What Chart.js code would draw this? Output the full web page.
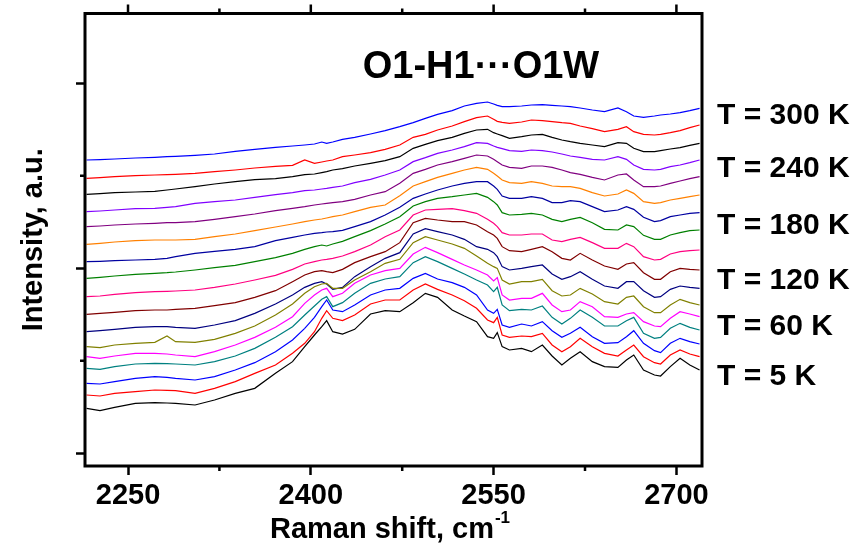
<!DOCTYPE html>
<html>
<head>
<meta charset="utf-8">
<script src="https://cdn.jsdelivr.net/npm/chart.js@4.4.1/dist/chart.umd.min.js"></script>
<style>
	html, body { margin: 0; padding: 0; background: #fff; }
	#wrap { width: 852px; height: 547px; position: relative; }
</style>
</head>
<body>
<div id="wrap"><canvas id="chart-raman"></canvas></div>
<script>
// Raman shift (cm-1) sample positions
const SHIFT = [2216, 2227, 2239, 2256, 2272, 2282, 2289, 2305, 2321, 2338, 2354, 2371, 2385, 2395, 2403, 2409, 2413, 2418, 2426, 2436, 2449, 2461, 2473,
	2484, 2494, 2504, 2516, 2526, 2536, 2545, 2550, 2553, 2557, 2563, 2573, 2581, 2590, 2598, 2606, 2613, 2621, 2631, 2641, 2652, 2659, 2665, 2673, 2682, 2687, 2695, 2703, 2711, 2719];

// stacked intensities (a.u.), bottom curve first
const I_5K = [173, 166, 176, 188, 190, 189, 188, 183, 198, 218, 233, 278, 313, 358, 393, 418, 436, 403, 396, 410, 456, 466, 463,
	490, 518, 506, 468, 450, 433, 388, 383, 400, 358, 348, 353, 343, 363, 330, 303, 323, 343, 313, 298, 296, 318, 333, 288, 273, 270, 298, 323, 303, 288];
const I_10K = [213, 210, 218, 223, 228, 227, 226, 218, 233, 253, 278, 303, 338, 368, 403, 443, 466, 443, 436, 453, 486, 498, 498,
	528, 546, 530, 513, 496, 473, 438, 430, 446, 393, 386, 390, 388, 398, 363, 343, 358, 383, 358, 338, 330, 348, 363, 328, 310, 306, 333, 348, 336, 328];
const I_20K = [248, 246, 253, 263, 268, 266, 263, 258, 268, 288, 310, 343, 378, 413, 446, 478, 498, 468, 463, 483, 513, 528, 533,
	563, 578, 561, 550, 536, 513, 468, 458, 470, 423, 416, 426, 420, 433, 406, 386, 398, 416, 388, 368, 370, 388, 406, 368, 346, 340, 368, 383, 373, 366];
const I_40K = [293, 290, 298, 306, 308, 307, 306, 303, 313, 330, 353, 386, 418, 453, 480, 500, 508, 478, 490, 518, 548, 561, 568,
	610, 628, 613, 593, 576, 558, 543, 523, 536, 483, 466, 470, 468, 480, 446, 426, 443, 468, 446, 420, 420, 436, 446, 398, 383, 386, 413, 428, 416, 408];
const I_60K = [328, 323, 330, 338, 338, 336, 333, 328, 343, 363, 386, 416, 448, 488, 513, 528, 533, 508, 518, 548, 573, 586, 593,
	636, 656, 640, 620, 603, 588, 573, 555, 565, 513, 498, 503, 503, 518, 483, 463, 468, 493, 478, 448, 446, 456, 460, 433, 420, 418, 443, 463, 456, 448];
const I_80K = [358, 355, 363, 368, 371, 390, 373, 371, 380, 398, 420, 453, 486, 518, 538, 546, 548, 533, 533, 558, 583, 608, 620,
	670, 688, 678, 666, 653, 630, 608, 598, 593, 558, 546, 553, 553, 560, 526, 510, 513, 533, 516, 493, 486, 506, 510, 478, 460, 460, 483, 500, 490, 483];
const I_100K = [403, 406, 410, 416, 418, 418, 416, 413, 423, 436, 458, 486, 513, 536, 548, 553, 546, 530, 536, 568, 598, 623, 640,
	696, 712, 703, 693, 680, 658, 650, 640, 628, 598, 588, 593, 598, 603, 576, 560, 568, 583, 560, 540, 533, 553, 553, 526, 506, 508, 530, 540, 536, 533];
const I_120K = [455, 458, 461, 466, 468, 468, 470, 473, 481, 490, 506, 526, 553, 573, 583, 586, 583, 580, 590, 610, 628, 643, 670,
	730, 743, 738, 733, 733, 723, 703, 693, 683, 658, 646, 643, 650, 658, 643, 623, 618, 638, 618, 600, 590, 606, 610, 580, 560, 560, 583, 593, 590, 588];
const I_140K = [508, 510, 515, 520, 523, 524, 525, 528, 536, 546, 558, 572, 590, 606, 613, 618, 620, 623, 630, 643, 663, 688, 708,
	753, 768, 770, 772, 766, 758, 740, 728, 718, 700, 693, 693, 696, 696, 678, 673, 680, 686, 670, 653, 653, 668, 658, 628, 618, 620, 636, 643, 646, 648];
const I_160K = [563, 566, 570, 575, 578, 580, 582, 588, 595, 602, 613, 625, 638, 650, 658, 663, 660, 666, 674, 688, 706, 726, 748,
	780, 793, 803, 808, 813, 818, 806, 793, 783, 760, 753, 755, 758, 753, 740, 733, 740, 746, 730, 710, 708, 723, 718, 692, 680, 680, 693, 700, 706, 708];
const I_180K = [613, 614, 616, 618, 620, 623, 628, 638, 644, 650, 658, 676, 686, 693, 698, 700, 702, 703, 707, 718, 733, 753, 776,
	803, 816, 828, 840, 848, 853, 853, 840, 830, 810, 803, 803, 808, 803, 790, 790, 796, 793, 778, 763, 768, 778, 770, 746, 733, 736, 748, 753, 758, 760];
const I_200K = [665, 668, 672, 676, 678, 678, 678, 680, 688, 696, 706, 717, 726, 733, 738, 741, 744, 748, 753, 763, 776, 783, 811,
	840, 853, 866, 878, 888, 896, 890, 878, 870, 858, 850, 848, 853, 848, 840, 838, 838, 833, 820, 810, 816, 828, 818, 793, 788, 790, 798, 803, 808, 813];
const I_220K = [718, 720, 723, 726, 728, 730, 730, 733, 740, 748, 756, 766, 773, 778, 783, 786, 788, 790, 793, 800, 813, 823, 848,
	878, 890, 903, 913, 923, 933, 930, 920, 913, 903, 896, 893, 900, 900, 896, 888, 880, 875, 866, 858, 873, 876, 858, 838, 838, 840, 848, 855, 862, 868];
const I_240K = [763, 765, 768, 772, 773, 776, 778, 788, 793, 798, 806, 814, 820, 826, 828, 831, 833, 836, 840, 850, 860, 873, 888,
	913, 925, 938, 948, 958, 970, 968, 960, 956, 952, 946, 944, 948, 946, 942, 936, 930, 926, 920, 918, 928, 920, 903, 890, 888, 890, 898, 903, 910, 918];
const I_260K = [815, 817, 820, 822, 824, 828, 831, 838, 846, 853, 859, 862, 868, 874, 876, 880, 883, 888, 892, 900, 908, 916, 928,
	953, 965, 976, 986, 998, 1008, 1010, 1000, 996, 991, 983, 988, 993, 995, 986, 978, 973, 968, 963, 958, 970, 968, 953, 943, 943, 946, 951, 955, 962, 968];
const I_280K = [863, 865, 868, 871, 873, 874, 875, 878, 883, 888, 894, 899, 902, 918, 908, 912, 915, 918, 928, 933, 940, 950, 963,
	986, 995, 1008, 1020, 1033, 1045, 1050, 1040, 1034, 1031, 1028, 1032, 1038, 1036, 1033, 1030, 1028, 1020, 1012, 1003, 1010, 1018, 1003, 995, 993, 995, 1000, 1006, 1015, 1023];
const I_300K = [918, 919, 921, 924, 926, 928, 929, 932, 936, 944, 950, 956, 960, 963, 966, 972, 968, 972, 980, 986, 996, 1006, 1018,
	1030, 1043, 1055, 1066, 1080, 1088, 1092, 1086, 1082, 1078, 1078, 1080, 1083, 1084, 1082, 1080, 1078, 1074, 1068, 1063, 1074, 1063, 1050, 1046, 1050, 1053, 1056, 1060, 1066, 1073];

const TEMPS = [5, 10, 20, 40, 60, 80, 100, 120, 140, 160, 180, 200, 220, 240, 260, 280, 300];
const SPECTRA = [I_5K, I_10K, I_20K, I_40K, I_60K, I_80K, I_100K, I_120K, I_140K, I_160K, I_180K, I_200K, I_220K, I_240K, I_260K, I_280K, I_300K];
const COLORS = ["#000000", "#ff0000", "#0000ff", "#008080", "#ff00ff", "#808000", "#000080", "#800000", "#ff0080",
	"#008000", "#0000a0", "#ff8000", "#800080", "#8000ff", "#000000", "#ff0000", "#0000ff"];

const X_TICKS = [2250, 2400, 2550, 2700];
const X_MINOR = [2325, 2475, 2625];
const Y_TICKS = [38, 593, 1148];
const Y_MINOR = [315.5, 870.5];
const TEMP_LABELS = ["T = 300 K", "T = 240 K", "T = 180 K", "T = 120 K", "T = 60 K", "T = 5 K"];

const FONT = "'Liberation Sans', Arial, sans-serif";

// frame, minor ticks and free text
const decorations = {
	id: "decorations",
	afterDraw(chart) {
		const { ctx, chartArea: a, scales: { x, y } } = chart;
		ctx.save();
		ctx.strokeStyle = "#000";
		ctx.lineWidth = 3;
		ctx.strokeRect(a.left, a.top, a.right - a.left, a.bottom - a.top);

		ctx.lineWidth = 2.5;
		ctx.beginPath();
		X_TICKS.forEach((v) => {
			const px = x.getPixelForValue(v);
			ctx.moveTo(px, a.top);
			ctx.lineTo(px, a.top - 9);
		});
		X_MINOR.forEach((v) => {
			const px = x.getPixelForValue(v);
			ctx.moveTo(px, a.bottom);
			ctx.lineTo(px, a.bottom + 5);
			ctx.moveTo(px, a.top);
			ctx.lineTo(px, a.top - 5);
		});
		Y_MINOR.forEach((v) => {
			const py = y.getPixelForValue(v);
			ctx.moveTo(a.left, py);
			ctx.lineTo(a.left - 5, py);
		});
		ctx.stroke();

		ctx.fillStyle = "#000";
		ctx.textBaseline = "alphabetic";

		ctx.font = "bold 38px " + FONT;
		ctx.textAlign = "center";
		ctx.fillText("O1-H1\u00B7\u00B7\u00B7O1W", 481, 78);

		ctx.font = "bold 30px " + FONT;
		ctx.textAlign = "left";
		const labelY = [124, 177, 234, 289, 335, 385];
		TEMP_LABELS.forEach((t, i) => ctx.fillText(t, 717, labelY[i]));

		// x axis title with superscript
		const main = "Raman shift, cm";
		ctx.font = "bold 29px " + FONT;
		const w1 = ctx.measureText(main).width;
		ctx.font = "bold 17px " + FONT;
		const w2 = ctx.measureText("-1").width;
		const x0 = (a.left + a.right) / 2 - (w1 + w2) / 2 - 4;
		ctx.font = "bold 29px " + FONT;
		ctx.fillText(main, x0, 538);
		ctx.font = "bold 17px " + FONT;
		ctx.fillText("-1", x0 + w1 + 1, 523);

		// y axis title
		ctx.translate(42, (a.top + a.bottom) / 2);
		ctx.rotate(-Math.PI / 2);
		ctx.textAlign = "center";
		ctx.font = "bold 29px " + FONT;
		ctx.fillText("Intensity, a.u.", 0, 0);
		ctx.restore();
	},
};

const CHART_DATA = {
	datasets: SPECTRA.map((vals, i) => ({
		label: "T = " + TEMPS[i] + " K",
		data: vals.map((v, k) => ({ x: SHIFT[k], y: v })),
		borderColor: COLORS[i],
		borderWidth: 1.2,
		pointRadius: 0,
		tension: 0,
		fill: false,
	})),
};

const CHART_CONFIG = {
	type: "line",
	data: CHART_DATA,
	options: {
		responsive: true,
		maintainAspectRatio: false,
		animation: false,
		devicePixelRatio: 1,
		layout: {
			padding: { left: 0, right: 150, top: 13.5, bottom: 0 },
		},
		plugins: {
			legend: { display: false },
			title: { display: false },
			tooltip: { enabled: false },
		},
		scales: {
			x: {
				type: "linear",
				min: 2214.7,
				max: 2721,
				border: { display: false },
				grid: {
					drawOnChartArea: false,
					tickLength: 9,
					tickWidth: 2.5,
					tickColor: "#000",
				},
				afterBuildTicks: (scale) => {
					scale.ticks = X_TICKS.map((v) => ({ value: v }));
				},
				afterFit: (scale) => {
					scale.height = 81;
				},
				ticks: {
					color: "#000",
					padding: 4,
					maxRotation: 0,
					font: { family: FONT, size: 29, weight: "bold" },
					callback: (v) => String(v),
				},
			},
			y: {
				type: "linear",
				min: 0,
				max: 1357.5,
				border: { display: false },
				grid: {
					drawOnChartArea: false,
					tickLength: 9,
					tickWidth: 2.5,
					tickColor: "#000",
				},
				afterBuildTicks: (scale) => {
					scale.ticks = Y_TICKS.map((v) => ({ value: v }));
				},
				afterFit: (scale) => {
					scale.width = 85;
				},
				ticks: {
					padding: 0,
					callback: () => "",
				},
			},
		},
	},
	plugins: [decorations],
};

new Chart(document.getElementById("chart-raman"), CHART_CONFIG);
</script>
</body>
</html>
